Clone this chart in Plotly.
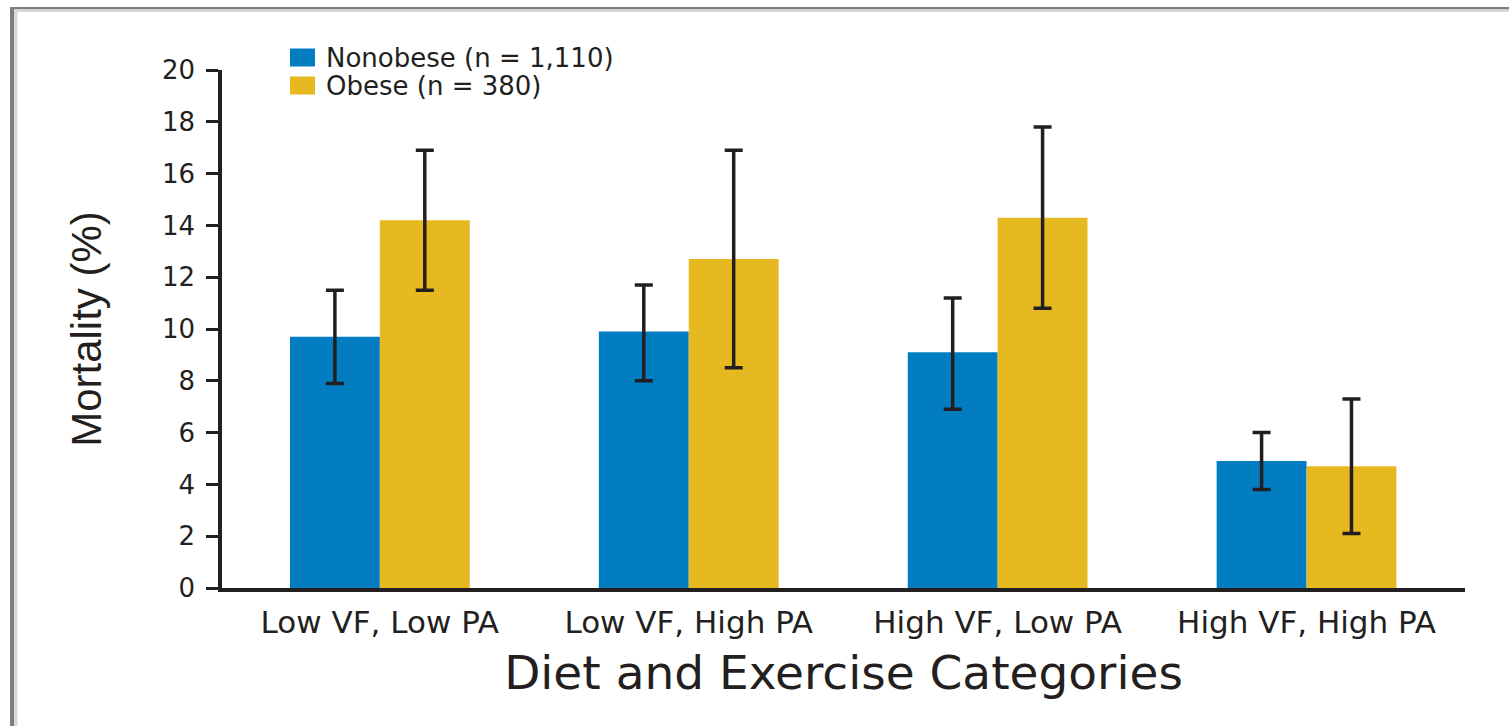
import plotly.graph_objects as go

# Mortality (%) by diet (VF) and exercise (PA) category, with 95% CI bounds
categories = ["Low VF, Low PA", "Low VF, High PA", "High VF, Low PA", "High VF, High PA"]
nonobese = [9.7, 9.9, 9.1, 4.9]
nonobese_hi = [11.5, 11.7, 11.2, 6.0]
nonobese_lo = [7.9, 8.0, 6.9, 3.8]
obese = [14.2, 12.7, 14.3, 4.7]
obese_hi = [16.9, 16.9, 17.8, 7.3]
obese_lo = [11.5, 8.5, 10.8, 2.1]
y_ticks = [0, 2, 4, 6, 8, 10, 12, 14, 16, 18, 20]
series_names = ["Nonobese (n = 1,110)", "Obese (n = 380)"]

INK = "#231f20"
BLUE = "#027dc2"
GOLD = "#e6b920"

W, H = 1509, 726
L, R, T, B = 222, 44, 70, 138
PW, PH = W - L - R, H - T - B


def px_x(p):
    return (p - L) / PW


def px_y(p):
    return (H - B - p) / PH


def err(vals, hi, lo):
    return dict(
        type="data", symmetric=False,
        array=[h - v for h, v in zip(hi, vals)],
        arrayminus=[v - l for v, l in zip(vals, lo)],
        color=INK, thickness=3.5, width=9,
    )


fig = go.Figure()
fig.add_trace(go.Bar(
    name=series_names[0], x=categories, y=nonobese,
    marker=dict(color=BLUE, line=dict(width=0)),
    error_y=err(nonobese, nonobese_hi, nonobese_lo),
))
fig.add_trace(go.Bar(
    name=series_names[1], x=categories, y=obese,
    marker=dict(color=GOLD, line=dict(width=0)),
    error_y=err(obese, obese_hi, obese_lo),
))

# page frame: dark edge with a light inner edge along the top and left
frame = [
    (10, 7, W, 9.5, "#7f7f7f"),
    (10, 9.5, W, 12, "#d9d9d9"),
    (10, 7, 14, H, "#7f7f7f"),
    (14, 12, 17.5, H, "#d9d9d9"),
]
shapes = [
    dict(type="rect", xref="paper", yref="paper",
         x0=px_x(x0), x1=px_x(x1), y0=px_y(y1), y1=px_y(y0),
         fillcolor=c, line=dict(width=0), layer="below")
    for x0, y0, x1, y1, c in frame
]

# key: colour swatch plus series name, stacked in the top-left of the plot
annotations = []
for i, (name, col) in enumerate(zip(series_names, [BLUE, GOLD])):
    top = 48.5 + i * 28
    shapes.append(dict(type="rect", xref="paper", yref="paper",
                       x0=px_x(290), x1=px_x(315), y0=px_y(top + 18), y1=px_y(top),
                       fillcolor=col, line=dict(width=0)))
    annotations.append(dict(xref="paper", yref="paper", x=px_x(324), y=px_y(top + 9),
                            xanchor="left", yanchor="middle", showarrow=False,
                            text=name, font=dict(family="DejaVu Sans", size=26, color=INK)))

fig.update_layout(
    width=W, height=H,
    margin=dict(l=L, r=R, t=T, b=B, autoexpand=False),
    paper_bgcolor="white", plot_bgcolor="white",
    barmode="group", bargap=0.418, bargroupgap=0,
    font=dict(family="DejaVu Sans", color=INK),
    showlegend=False,
    xaxis=dict(
        range=[-0.511, 3.513], showgrid=False, zeroline=False,
        showline=True, linecolor=INK, linewidth=3.5,
        ticks="", ticklabelstandoff=4,
        tickfont=dict(family="DejaVu Sans", size=31, color=INK),
        title=dict(text="Diet and Exercise Categories",
                   font=dict(family="DejaVu Sans", size=47, color=INK),
                   standoff=18),
        fixedrange=True,
    ),
    yaxis=dict(
        range=[0, 20], tickvals=y_ticks, showgrid=False, zeroline=False,
        showline=True, linecolor=INK, linewidth=3.5,
        ticks="outside", ticklen=12, tickwidth=3, tickcolor=INK,
        ticklabelstandoff=6,
        tickfont=dict(family="DejaVu Sans", size=26, color=INK),
        title=dict(text="Mortality (%)",
                   font=dict(family="Liberation Sans", size=42, color=INK),
                   standoff=48),
        fixedrange=True,
    ),
    shapes=shapes,
    annotations=annotations,
)

fig.write_html("out.html")
